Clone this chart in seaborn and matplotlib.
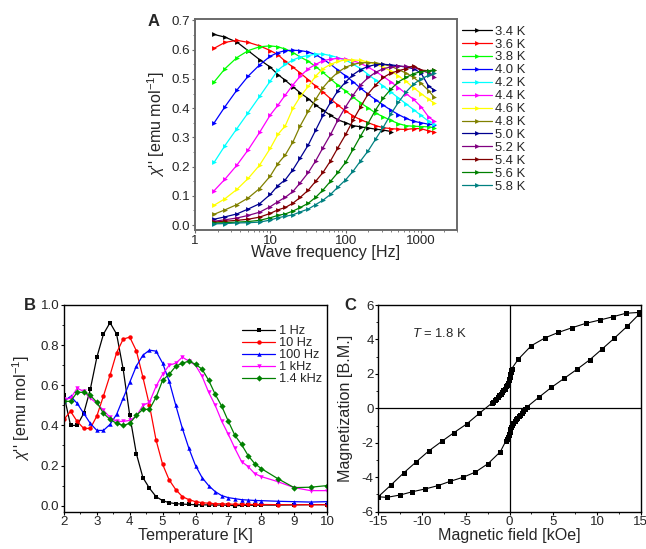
import numpy as np
import pandas as pd
import matplotlib
matplotlib.use("Agg")
import matplotlib.pyplot as plt
import seaborn as sns
from matplotlib.ticker import MultipleLocator, LogLocator, NullFormatter

# ---------------- data: panel A (chi'' vs frequency) ----------------
freq = [1.8, 2.5, 3.6, 5.1, 7.2, 10, 12.6, 15.8, 20, 25, 32, 40, 50, 63, 79, 100,
        126, 158, 200, 251, 316, 398, 501, 631, 794, 1000, 1259, 1500]

temps_A = ['3.4 K', '3.6 K', '3.8 K', '4.0 K', '4.2 K', '4.4 K', '4.6 K',
           '4.8 K', '5.0 K', '5.2 K', '5.4 K', '5.6 K', '5.8 K']
colors_A = ['#000000', '#ff0000', '#00ff00', '#0000ff', '#00ffff', '#ff00ff', '#ffff00',
            '#808000', '#000090', '#800080', '#800000', '#008000', '#008080']

chi_34 = [0.652, 0.643, 0.626, 0.596, 0.566, 0.540, 0.515, 0.495, 0.473, 0.452, 0.432,
          0.410, 0.393, 0.375, 0.360, 0.350, 0.340, 0.336, 0.332, 0.328, 0.325, 0.320]
chi_36 = [0.605, 0.625, 0.632, 0.625, 0.613, 0.597, 0.583, 0.560, 0.540, 0.520, 0.497,
          0.475, 0.455, 0.432, 0.410, 0.390, 0.373, 0.360, 0.350, 0.340, 0.333, 0.330,
          0.328, 0.327, 0.330, 0.330, 0.322, 0.318]
chi_38 = [0.490, 0.535, 0.573, 0.597, 0.610, 0.613, 0.610, 0.602, 0.590, 0.575, 0.560,
          0.542, 0.522, 0.500, 0.478, 0.458, 0.437, 0.418, 0.400, 0.383, 0.370, 0.358,
          0.347, 0.340, 0.338, 0.337, 0.336, 0.333]
chi_40 = [0.350, 0.405, 0.462, 0.510, 0.548, 0.578, 0.590, 0.597, 0.598, 0.597, 0.592,
          0.583, 0.568, 0.550, 0.530, 0.510, 0.490, 0.468, 0.447, 0.428, 0.410, 0.393,
          0.378, 0.365, 0.355, 0.350, 0.345, 0.343]
chi_42 = [0.215, 0.272, 0.330, 0.385, 0.440, 0.493, 0.530, 0.550, 0.565, 0.575, 0.580,
          0.585, 0.585, 0.580, 0.573, 0.565, 0.550, 0.535, 0.515, 0.495, 0.475, 0.455,
          0.435, 0.415, 0.395, 0.375, 0.355, 0.345]
chi_44 = [0.118, 0.157, 0.205, 0.258, 0.317, 0.377, 0.410, 0.445, 0.480, 0.510, 0.535,
          0.550, 0.562, 0.568, 0.570, 0.568, 0.562, 0.553, 0.540, 0.525, 0.508, 0.490,
          0.470, 0.450, 0.430, 0.405, 0.370, 0.355]
chi_46 = [0.068, 0.090, 0.122, 0.160, 0.205, 0.263, 0.310, 0.340, 0.400, 0.440, 0.475,
          0.510, 0.535, 0.550, 0.560, 0.565, 0.565, 0.563, 0.558, 0.550, 0.540, 0.527,
          0.510, 0.492, 0.470, 0.450, 0.430, 0.417]
chi_48 = [0.037, 0.052, 0.070, 0.093, 0.125, 0.168, 0.210, 0.240, 0.285, 0.340, 0.390,
          0.430, 0.470, 0.500, 0.523, 0.540, 0.550, 0.555, 0.556, 0.555, 0.550, 0.543,
          0.532, 0.520, 0.505, 0.485, 0.460, 0.437]
chi_50 = [0.020, 0.028, 0.038, 0.055, 0.073, 0.105, 0.135, 0.155, 0.190, 0.230, 0.275,
          0.325, 0.375, 0.420, 0.460, 0.490, 0.515, 0.532, 0.543, 0.549, 0.550, 0.548,
          0.545, 0.540, 0.535, 0.520, 0.475, 0.462]
chi_52 = [0.013, 0.018, 0.024, 0.033, 0.044, 0.063, 0.080, 0.095, 0.115, 0.145, 0.180,
          0.220, 0.265, 0.310, 0.360, 0.405, 0.445, 0.480, 0.505, 0.523, 0.535, 0.541,
          0.543, 0.543, 0.540, 0.530, 0.520, 0.508]
chi_54 = [0.010, 0.013, 0.016, 0.020, 0.027, 0.040, 0.052, 0.060, 0.075, 0.095, 0.120,
          0.150, 0.180, 0.220, 0.265, 0.310, 0.360, 0.405, 0.450, 0.480, 0.505, 0.520,
          0.528, 0.535, 0.545, 0.530, 0.528, 0.530]
chi_56 = [0.007, 0.008, 0.010, 0.012, 0.016, 0.025, 0.033, 0.038, 0.048, 0.060, 0.075,
          0.095, 0.120, 0.150, 0.180, 0.215, 0.260, 0.305, 0.350, 0.395, 0.435, 0.465,
          0.490, 0.505, 0.518, 0.525, 0.528, 0.530]
chi_58 = [0.004, 0.005, 0.007, 0.008, 0.010, 0.017, 0.025, 0.030, 0.035, 0.045, 0.055,
          0.070, 0.085, 0.105, 0.130, 0.155, 0.185, 0.220, 0.255, 0.295, 0.335, 0.380,
          0.420, 0.455, 0.482, 0.500, 0.512, 0.520]
series_A = [chi_34, chi_36, chi_38, chi_40, chi_42, chi_44, chi_46,
            chi_48, chi_50, chi_52, chi_54, chi_56, chi_58]

# ---------------- data: panel B (chi'' vs temperature) ----------------
temperature = [2.0, 2.2, 2.4, 2.6, 2.8, 3.0, 3.2, 3.4, 3.6, 3.8, 4.0, 4.2, 4.4, 4.6,
               4.8, 5.0, 5.2, 5.4, 5.6, 5.8, 6.0, 6.2, 6.4, 6.6, 6.8, 7.0, 7.2, 7.4,
               7.6, 7.8, 8.0, 8.5, 9.0, 9.5, 10.0]
chi_1Hz = [0.55, 0.40, 0.40, 0.46, 0.58, 0.74, 0.855, 0.912, 0.855, 0.68, 0.45, 0.26,
           0.14, 0.087, 0.045, 0.025, 0.015, 0.010, 0.008, 0.006, 0.005, 0.004, 0.004,
           0.003, 0.003, 0.002, 0.000, 0.001, 0.002, 0.002, 0.003, 0.003, 0.004, 0.005,
           0.005]
chi_10Hz = [0.43, 0.47, 0.42, 0.385, 0.385, 0.447, 0.547, 0.65, 0.762, 0.83, 0.84, 0.772,
            0.64, 0.50, 0.327, 0.206, 0.128, 0.08, 0.045, 0.03, 0.02, 0.015, 0.012, 0.01,
            0.009, 0.008, 0.007, 0.007, 0.006, 0.006, 0.006, 0.005, 0.005, 0.005, 0.005]
chi_100Hz = [0.52, 0.545, 0.51, 0.46, 0.41, 0.375, 0.375, 0.405, 0.455, 0.535, 0.615,
             0.695, 0.75, 0.775, 0.77, 0.71, 0.62, 0.50, 0.385, 0.285, 0.20, 0.14, 0.10,
             0.07, 0.05, 0.04, 0.035, 0.03, 0.028, 0.026, 0.025, 0.022, 0.02, 0.018, 0.02]
chi_1kHz = [0.53, 0.535, 0.585, 0.57, 0.535, 0.51, 0.475, 0.44, 0.42, 0.42, 0.425, 0.445,
            0.50, 0.515, 0.595, 0.655, 0.70, 0.71, 0.74, 0.72, 0.70, 0.645, 0.565, 0.50,
            0.42, 0.355, 0.285, 0.22, 0.195, 0.16, 0.145, 0.12, 0.09, 0.075, 0.075]
chi_14kHz = [0.52, 0.52, 0.565, 0.565, 0.55, 0.515, 0.46, 0.43, 0.41, 0.40, 0.41, 0.45,
             0.48, 0.48, 0.54, 0.625, 0.655, 0.695, 0.71, 0.72, 0.705, 0.68, 0.625,
             0.555, 0.495, 0.42, 0.35, 0.305, 0.25, 0.21, 0.185, 0.135, 0.09, 0.092, 0.10]
labels_B = ['1 Hz', '10 Hz', '100 Hz', '1 kHz', '1.4 kHz']
series_B = [chi_1Hz, chi_10Hz, chi_100Hz, chi_1kHz, chi_14kHz]
colors_B = ['#000000', '#ff0000', '#0000ff', '#ff00ff', '#008000']
markers_B = ['s', 'o', '^', 'v', 'D']

# ---------------- data: panel C (hysteresis at 1.8 K) ----------------
field_down = [14.85, 13.3, 11.85, 10.35, 8.75, 7.15, 5.6, 4.1, 2.5, 1.0,
              0.25, 0.2, 0.15, 0.1, 0.05, 0.0, -0.05, -0.1, -0.2, -0.3, -0.4, -0.55,
              -0.7, -0.85, -1.0, -1.15, -1.3, -1.5, -1.7, -1.9, -2.05,
              -3.45, -4.9, -6.35, -7.75, -9.2, -10.65, -12.1, -13.55, -15.0]
moment_down = [5.57, 5.52, 5.32, 5.13, 4.94, 4.68, 4.41, 4.1, 3.64, 2.85,
               2.3, 2.22, 2.12, 2.02, 1.92, 1.82, 1.72, 1.63, 1.5, 1.38, 1.28, 1.15,
               1.04, 0.94, 0.84, 0.75, 0.66, 0.56, 0.46, 0.36, 0.29,
               -0.29, -0.91, -1.41, -1.92, -2.46, -3.1, -3.75, -4.45, -5.13]
field_up = [-14.05, -12.5, -11.1, -9.65, -8.2, -6.8, -5.3, -3.9, -2.45, -1.05,
            -0.4, -0.3, -0.22, -0.15, -0.1, -0.05, 0.0, 0.05, 0.1, 0.2, 0.3, 0.45,
            0.6, 0.75, 0.9, 1.05, 1.2, 1.4, 1.6, 1.8, 1.95,
            3.35, 4.8, 6.25, 7.7, 9.15, 10.6, 12.0, 13.45, 14.85]
moment_up = [-5.17, -5.03, -4.84, -4.68, -4.49, -4.24, -4.0, -3.7, -3.21, -2.52,
             -1.88, -1.8, -1.72, -1.64, -1.56, -1.48, -1.4, -1.3, -1.2, -1.08, -0.98,
             -0.86, -0.75, -0.64, -0.54, -0.45, -0.36, -0.26, -0.15, -0.04, 0.06,
             0.64, 1.22, 1.74, 2.26, 2.81, 3.45, 4.08, 4.76, 5.48]

# ---------------- style ----------------
sns.set_theme(style='ticks')
plt.rcParams['font.family'] = ['Liberation Sans', 'DejaVu Sans']
plt.rcParams['mathtext.fontset'] = 'custom'
plt.rcParams['mathtext.rm'] = 'Liberation Sans'
plt.rcParams['mathtext.it'] = 'Liberation Sans:italic'
plt.rcParams['mathtext.bf'] = 'Liberation Sans:bold'
plt.rcParams['axes.unicode_minus'] = False

W, H = 646, 549
fig = plt.figure(figsize=(W / 100, H / 100), dpi=100)

TICK_FS = 9.6
LABEL_FS = 11.6


def px_axes(l, t, r, b):
    return fig.add_axes([l / W, 1 - b / H, (r - l) / W, (b - t) / H])


def style_ticks(ax, spine_color='black', spine_lw=1.0):
    ax.tick_params(which='major', direction='out', length=2.4, width=0.8,
                   pad=1.0, labelsize=TICK_FS, color=spine_color)
    ax.tick_params(which='minor', direction='out', length=1.4, width=0.6,
                   color=spine_color)
    for s in ax.spines.values():
        s.set_visible(True)
        s.set_color(spine_color)
        s.set_linewidth(spine_lw)


ylab = r"$\chi$'' [emu mol$^{-1}$]"

# ---------------- panel A ----------------
axA = px_axes(195, 19, 457, 230)
for lab, col, vals in zip(temps_A, colors_A, series_A):
    sns.lineplot(x=freq[:len(vals)], y=vals, ax=axA, color=col, marker='>',
                 markersize=3.5, markeredgewidth=0, linewidth=0.9,
                 estimator=None, label=lab)
axA.set_xscale('log')
axA.set_xlim(1, 3000)
axA.set_ylim(-0.017, 0.705)
axA.xaxis.set_minor_locator(LogLocator(base=10, subs=np.arange(2, 10), numticks=10))
axA.xaxis.set_minor_formatter(NullFormatter())
axA.set_xticks([1, 10, 100, 1000])
axA.set_xticklabels(['1', '10', '100', '1000'])
axA.yaxis.set_minor_locator(MultipleLocator(0.05))
axA.set_yticks([0.0, 0.1, 0.2, 0.3, 0.4, 0.5, 0.6, 0.7])
axA.set_yticklabels(['0.0', '0.1', '0.2', '0.3', '0.4', '0.5', '0.6', '0.7'])
style_ticks(axA, '#6a6a6a', 1.4)
axA.set_xlabel('Wave frequency [Hz]', fontsize=LABEL_FS)
axA.set_ylabel(ylab, fontsize=LABEL_FS)
axA.xaxis.set_label_coords(0.5, -0.072)
axA.yaxis.set_label_coords(-0.105, 0.5)
axA.legend(loc='upper left', bbox_to_anchor=(462 / W, 1 - 25.5 / H),
           bbox_transform=fig.transFigure, frameon=False, fontsize=9.4,
           handlelength=2.3, handletextpad=0.25, labelspacing=0.06,
           borderpad=0, borderaxespad=0)
fig.text(154 / W, 1 - 22 / H, 'A', fontsize=12, fontweight='bold',
         ha='center', va='center')

# ---------------- panel B ----------------
axB = px_axes(64, 305, 327, 511.7)
for lab, col, mk, vals in zip(labels_B, colors_B, markers_B, series_B):
    sns.lineplot(x=temperature, y=vals, ax=axB, color=col, marker=mk,
                 markersize=3.2, markeredgewidth=0, linewidth=0.9,
                 estimator=None, label=lab)
axB.set_xlim(2, 10)
axB.set_ylim(-0.03, 1.0)
axB.xaxis.set_major_locator(MultipleLocator(1))
axB.xaxis.set_minor_locator(MultipleLocator(0.5))
axB.yaxis.set_minor_locator(MultipleLocator(0.1))
axB.set_yticks([0.0, 0.2, 0.4, 0.6, 0.8, 1.0])
axB.set_yticklabels(['0.0', '0.2', '0.4', '0.6', '0.8', '1.0'])
style_ticks(axB)
axB.set_xlabel('Temperature [K]', fontsize=LABEL_FS)
axB.set_ylabel(ylab, fontsize=LABEL_FS)
axB.xaxis.set_label_coords(0.5, -0.078)
axB.yaxis.set_label_coords(-0.122, 0.5)
axB.legend(loc='upper left', bbox_to_anchor=(242 / W, 1 - 325.5 / H),
           bbox_transform=fig.transFigure, frameon=False, fontsize=9.2,
           handlelength=2.6, handletextpad=0.3, labelspacing=0.0,
           borderpad=0, borderaxespad=0)
fig.text(30 / W, 1 - 306 / H, 'B', fontsize=12, fontweight='bold',
         ha='center', va='center')

# ---------------- panel C ----------------
axC = px_axes(378.3, 305, 640.7, 511.7)
axC.axhline(0, color='black', linewidth=0.9, zorder=1)
axC.axvline(0, color='black', linewidth=0.9, zorder=1)
loop = pd.DataFrame({'field': field_down + field_up,
                     'moment': moment_down + moment_up})
sns.lineplot(data=loop, x='field', y='moment', ax=axC, sort=False, estimator=None,
             color='black', marker='s', markersize=3.6, markeredgewidth=0,
             linewidth=0.8)
axC.set_xlim(-15, 15)
axC.set_ylim(-6, 6)
axC.xaxis.set_major_locator(MultipleLocator(5))
axC.xaxis.set_minor_locator(MultipleLocator(2.5))
axC.yaxis.set_major_locator(MultipleLocator(2))
axC.yaxis.set_minor_locator(MultipleLocator(1))
style_ticks(axC)
axC.set_xlabel('Magnetic field [kOe]', fontsize=LABEL_FS)
axC.set_ylabel('Magnetization [B.M.]', fontsize=LABEL_FS)
axC.xaxis.set_label_coords(0.5, -0.078)
axC.yaxis.set_label_coords(-0.096, 0.5)
axC.text(-11.2, 4.36, r'$T$ = 1.8 K', fontsize=9.4, ha='left', va='center')
fig.text(350 / W, 1 - 305 / H, 'C', fontsize=12, fontweight='bold',
         ha='center', va='center')

fig.savefig('out.png', dpi=100)
